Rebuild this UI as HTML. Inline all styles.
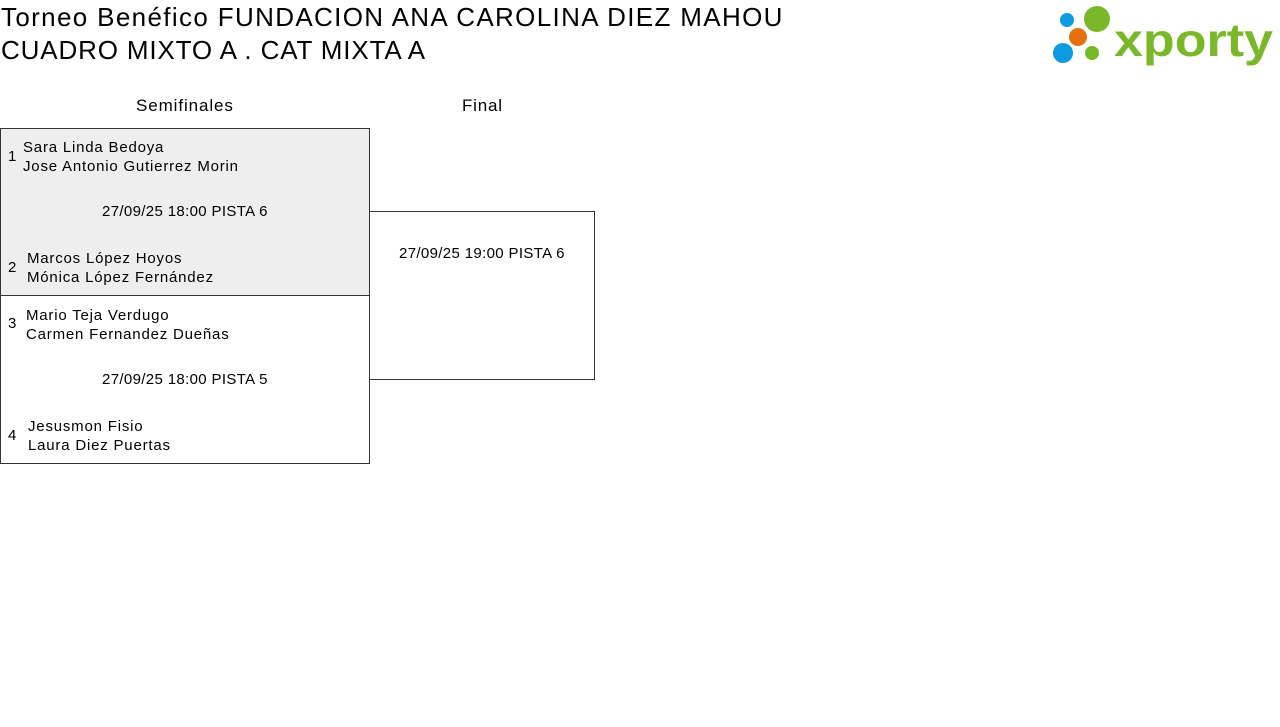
<!DOCTYPE html>
<html><head><meta charset="utf-8"><style>
body{margin:0;width:1280px;height:727px;background:#fff;font-family:"Liberation Sans",sans-serif;color:#000;position:relative;overflow:hidden}
.a{position:absolute;white-space:nowrap}
.t{font-size:26px;left:1px}
.s{font-size:15px;letter-spacing:0.8px}
.d{letter-spacing:0.35px}
.box{position:absolute;border:1px solid #333;box-sizing:border-box}
</style></head><body>
<div class="a t" style="top:2px;letter-spacing:1.35px">Torneo Benéfico FUNDACION ANA CAROLINA DIEZ MAHOU</div>
<div class="a t" style="top:35px;letter-spacing:0.85px">CUADRO MIXTO A . CAT MIXTA A</div>
<svg class="a" style="left:1040px;top:0" width="240" height="70">
<circle cx="27" cy="20" r="7" fill="#0b9bde"/>
<circle cx="57" cy="19" r="13" fill="#7ab829"/>
<circle cx="38" cy="37" r="9" fill="#e5700e"/>
<circle cx="23" cy="53" r="10" fill="#0b9bde"/>
<circle cx="52" cy="53" r="7" fill="#7ab829"/>
<text x="74" y="56" font-family="Liberation Sans" font-weight="bold" font-size="46" fill="#7ab829" textLength="159" lengthAdjust="spacingAndGlyphs">xporty</text>
</svg>
<div class="a" style="left:136px;top:96px;font-size:17px;letter-spacing:0.9px">Semifinales</div>
<div class="a" style="left:462px;top:96px;font-size:17px;letter-spacing:0.8px">Final</div>
<div class="box" style="left:0;top:128px;width:370px;height:168px;background:#eee"></div>
<div class="box" style="left:0;top:295px;width:370px;height:169px"></div>
<div class="box" style="left:369px;top:211px;width:226px;height:169px"></div>
<div class="a s" style="left:8px;top:148px">1</div>
<div class="a s" style="left:23px;top:138px;line-height:19px">Sara Linda Bedoya<br>Jose Antonio Gutierrez Morin</div>
<div class="a s d" style="left:102px;top:203px">27/09/25 18:00 PISTA 6</div>
<div class="a s" style="left:8px;top:259px">2</div>
<div class="a s" style="left:27px;top:249px;line-height:19px">Marcos López Hoyos<br>Mónica López Fernández</div>
<div class="a s" style="left:8px;top:315px">3</div>
<div class="a s" style="left:26px;top:306px;line-height:19px">Mario Teja Verdugo<br>Carmen Fernandez Dueñas</div>
<div class="a s d" style="left:102px;top:371px">27/09/25 18:00 PISTA 5</div>
<div class="a s" style="left:8px;top:427px">4</div>
<div class="a s" style="left:28px;top:417px;line-height:19px">Jesusmon Fisio<br>Laura Diez Puertas</div>
<div class="a s d" style="left:399px;top:245px">27/09/25 19:00 PISTA 6</div>
</body></html>
